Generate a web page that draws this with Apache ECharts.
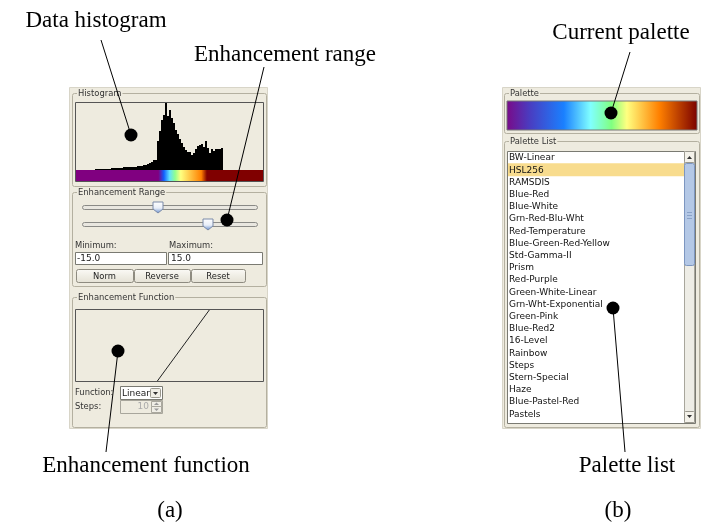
<!DOCTYPE html>
<html><head><meta charset="utf-8">
<script src="https://cdn.jsdelivr.net/npm/echarts@6/dist/echarts.min.js"></script>
<style>html,body{margin:0;padding:0;background:#fff}#c{width:706px;height:527px}</style>
</head><body><div id="c"></div>
<script>
// ---- data ----
const histBins = ['b0','b1','b2','b3','b4','b5','b6','b7','b8','b9','b10','b11','b12','b13','b14','b15','b16','b17','b18','b19','b20','b21','b22','b23','b24','b25','b26','b27','b28','b29','b30','b31','b32','b33','b34','b35','b36','b37','b38','b39','b40','b41','b42','b43','b44','b45','b46','b47','b48','b49','b50','b51','b52','b53','b54','b55','b56','b57','b58','b59','b60','b61','b62','b63'];
const histCounts = [1,1,1,1,1,1,1,1,2,2,2,2,2,2,3,3,3,3,3,3,3,4,4,4,5,5,6,7,8,10,
  10,29,39,50,55,67,54,60,52,47,40,36,31,27,23,20,18,18,15,17,21,24,25,26,23,29,22,17,21,19,21,21,21,22];
const funcX = [-15, 15];
const funcY = [0, 1];
const rangeMin = '-15.0', rangeMax = '15.0';
const paletteNames = ['BW-Linear','HSL256','RAMSDIS','Blue-Red','Blue-White','Grn-Red-Blu-Wht','Red-Temperature','Blue-Green-Red-Yellow','Std-Gamma-II','Prism','Red-Purple','Green-White-Linear','Grn-Wht-Exponential','Green-Pink','Blue-Red2','16-Level','Rainbow','Steps','Stern-Special','Haze','Blue-Pastel-Red','Pastels'];
const selectedPalette = 'HSL256';
const paletteStops = [[0,'#7a0a88'],[0.12,'#4a3cc0'],[0.3,'#1a80ff'],[0.44,'#80ffff'],[0.55,'#80ff80'],[0.63,'#ffff80'],[0.8,'#ff8000'],[1,'#7a0000']];
const barStops = [[0,'#800080'],[0.44,'#800080'],[0.47,'#1060ff'],[0.5,'#60e0ff'],[0.53,'#90ff90'],[0.56,'#ffff80'],[0.67,'#ff8000'],[0.7,'#800000'],[1,'#800000']];
const annotations = ['Data histogram','Enhancement range','Current palette','Enhancement function','Palette list','(a)','(b)'];

// ---- drawing ----
const BG = '#eeebdf', GB = '#b4b0a0', UIs = '9px "DejaVu Sans"', UIl = '8.4px "DejaVu Sans"';
const SERIF = '23px "Liberation Serif"';
const g = [];
function rect(x,y,w,h,fill,stroke,r,z){g.push({type:'rect',shape:{x:x,y:y,width:w,height:h,r:r||0},style:{fill:fill||'none',stroke:stroke||null,lineWidth:1},z:z||1,silent:true});}
function txt(s,x,y,font,fill,align,z){g.push({type:'text',style:{text:s,x:x,y:y,font:font,fill:fill||'#000',textAlign:align||'left',textVerticalAlign:'middle'},z:z||5,silent:true});}
function line(x1,y1,x2,y2,c,z){g.push({type:'line',shape:{x1:x1,y1:y1,x2:x2,y2:y2},style:{stroke:c||'#000',lineWidth:1},z:z||20,silent:true});}
function dot(x,y){g.push({type:'circle',shape:{cx:x,cy:y,r:6.5},style:{fill:'#000'},z:21,silent:true});}
function group(x,y,w,h,title){rect(x+0.5,y+0.5,w,h,null,GB,2,2);
  g.push({type:'text',style:{text:title,x:x+5,y:y+1,font:UIl,fill:'#333',textVerticalAlign:'middle',backgroundColor:BG,padding:[0,1]},z:4,silent:true});}
function grad(stops){return {type:'linear',x:0,y:0,x2:1,y2:0,colorStops:stops.map(s=>({offset:s[0],color:s[1]}))};}
function button(x,y,w,h,label){g.push({type:'rect',shape:{x:x+0.5,y:y+0.5,width:w,height:h,r:2},style:{fill:{type:'linear',x:0,y:0,x2:0,y2:1,colorStops:[{offset:0,color:'#fbfaf6'},{offset:1,color:'#e4e1d4'}]},stroke:'#8e8b80',lineWidth:1},z:3,silent:true});
  txt(label,x+w/2,y+h/2+1,UIl,'#222','center');}

// panels
rect(69.5,87.5,198,341,BG,'#d8d5c8',0,0);
rect(502.5,87.5,198,341,BG,'#d8d5c8',0,0);

// Histogram group
group(72,93,194,93,'Histogram');
rect(75.5,102.5,188,79,BG,'#555',0,3);
g.push({type:'rect',shape:{x:76,y:170,width:187,height:11},style:{fill:grad(barStops)},z:4,silent:true});

// Enhancement range group
group(72,192,194,94,'Enhancement Range');
function slider(y,tx){rect(82.5,y-2.5,175,4,'#e9e7e0','#8a8a86',2,3);
  g.push({type:'polygon',shape:{points:[[tx-5,y-6],[tx+5,y-6],[tx+5,y+1],[tx,y+5],[tx-5,y+1]]},style:{fill:{type:'linear',x:0,y:0,x2:0,y2:1,colorStops:[{offset:0,color:'#ffffff'},{offset:0.55,color:'#e8eef8'},{offset:1,color:'#5c86c8'}]},stroke:'#7a8aa8',lineWidth:1},z:6,silent:true});}
slider(208,158); slider(225,208);
txt('Minimum:',75,246,UIl,'#333');
txt('Maximum:',169,246,UIl,'#333');
rect(75.5,252.5,91,12,'#fff','#7a7a72',0,3);
rect(168.5,252.5,94,12,'#fff','#7a7a72',0,3);
txt(rangeMin,77,259,UIs,'#222'); txt(rangeMax,171,259,UIs,'#222');
button(76,269,57,13,'Norm'); button(134,269,56,13,'Reverse'); button(191,269,54,13,'Reset');

// Enhancement function group
group(72,297,194,130,'Enhancement Function');
rect(75.5,309.5,188,72,BG,'#555',0,3);
txt('Function:',75,393,UIl,'#333');
rect(120.5,386.5,42,13,'#fff','#7a7a72',0,3);
txt('Linear',122,393.5,UIs,'#222');
rect(150.5,388.5,10,9,'#f0eee6','#9a988e',1,4);
g.push({type:'polygon',shape:{points:[[153,392],[158,392],[155.5,395]]},style:{fill:'#333'},z:5,silent:true});
txt('Steps:',75,407,UIl,'#333');
rect(120.5,400.5,42,13,BG,'#a8a69c',0,3);
txt('10',149,407,UIs,'#aaa','right');
rect(151.5,401.5,10,5,'#f0eee6','#aaa89e',0,4); rect(151.5,406.5,10,6,'#f0eee6','#aaa89e',0,4);
g.push({type:'polygon',shape:{points:[[154,405],[159,405],[156.5,402.5]]},style:{fill:'#999'},z:5,silent:true});
g.push({type:'polygon',shape:{points:[[154,408.5],[159,408.5],[156.5,411]]},style:{fill:'#999'},z:5,silent:true});

// Palette group
group(504,93,195,40,'Palette');
g.push({type:'rect',shape:{x:507,y:101,width:190,height:29},style:{fill:grad(paletteStops),stroke:'#777',lineWidth:1},z:4,silent:true});

// Palette list group
group(504,141,195,286,'Palette List');
rect(507.5,151.5,188,272,'#fff','#7a7a72',0,3);
const rowH = 12.2, row0 = 157.5;
paletteNames.forEach((n,i)=>{const y=row0+i*rowH;
  if(n===selectedPalette) rect(508,y-6.5,176,13,'#f8dc8e',null,0,4);
  txt(n,509,y+0.5,UIs,'#111','left',6);});
// scrollbar
rect(684.5,151.5,10,271,'#eeede6','#a8a69c',0,5);
rect(684.5,151.5,10,11,'#f4f2ea','#9a988e',1,6);
g.push({type:'polygon',shape:{points:[[687,159],[692,159],[689.5,156]]},style:{fill:'#333'},z:7,silent:true});
rect(684.5,163.5,10,102,'#b4c8e6','#7d96c0',2,6);
[212,215,218].forEach(y=>line(687,y+0.5,692,y+0.5,'#8aa2c8',7));
rect(684.5,411.5,10,11,'#f4f2ea','#9a988e',1,6);
g.push({type:'polygon',shape:{points:[[687,415],[692,415],[689.5,418]]},style:{fill:'#333'},z:7,silent:true});

// annotations
txt(annotations[0],96,21,SERIF,'#000','center');
txt(annotations[1],285,55,SERIF,'#000','center');
txt(annotations[2],621,33,SERIF,'#000','center');
txt(annotations[3],146,466,SERIF,'#000','center');
txt(annotations[4],627,466,SERIF,'#000','center');
txt(annotations[5],170,511,SERIF,'#000','center');
txt(annotations[6],618,511,SERIF,'#000','center');
line(101,40,131,135); dot(131,135);
line(264,67,227,220); dot(227,220);
line(630,52,611,113); dot(611,113);
line(106,452,118,351); dot(118,351);
line(625,452,613,308); dot(613,308);

const chart = echarts.init(document.getElementById('c'),null,{renderer:'canvas'});
chart.setOption({
  animation:false,
  backgroundColor:'#fff',
  grid:[{left:95,top:103,width:128,height:67,containLabel:false},{left:76,top:310,width:187,height:71}],
  xAxis:[{type:'category',data:histBins,gridIndex:0,show:false,boundaryGap:true},
         {type:'value',gridIndex:1,min:-62,max:46,show:false}],
  yAxis:[{type:'value',gridIndex:0,min:0,max:67,show:false},
         {type:'value',gridIndex:1,min:0,max:1,show:false}],
  series:[
    {type:'bar',xAxisIndex:0,yAxisIndex:0,data:histCounts,barCategoryGap:'0%',itemStyle:{color:'#000'},z:10,silent:true},
    {type:'line',xAxisIndex:1,yAxisIndex:1,data:funcX.map((x,i)=>[x,funcY[i]]),symbol:'none',lineStyle:{color:'#222',width:1},z:10,silent:true}
  ],
  graphic:g
});
</script></body></html>
